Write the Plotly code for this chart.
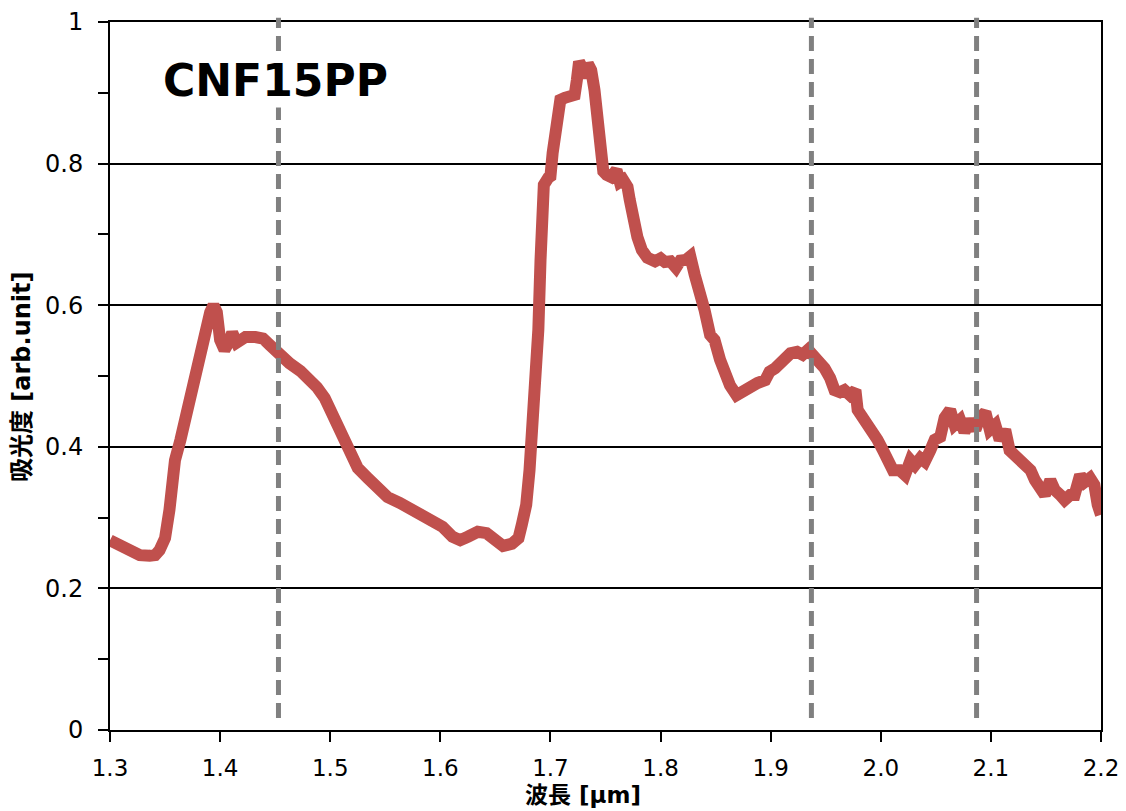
import plotly.graph_objects as go

# Wavelength [um] and absorbance [arb.unit]
wavelength = [
    1.300, 1.309, 1.318, 1.327, 1.336, 1.341, 1.345, 1.350, 1.354, 1.359,
    1.364, 1.368, 1.373, 1.377, 1.382, 1.386, 1.391, 1.394, 1.397, 1.400,
    1.404, 1.408, 1.411, 1.415, 1.418, 1.423, 1.432, 1.439, 1.445, 1.453,
    1.463, 1.473, 1.482, 1.488, 1.495, 1.500, 1.506, 1.512, 1.518, 1.525,
    1.534, 1.543, 1.552, 1.563, 1.575, 1.586, 1.595, 1.602, 1.611, 1.618,
    1.625, 1.634, 1.642, 1.650, 1.657, 1.665, 1.671, 1.674, 1.678, 1.681,
    1.684, 1.686, 1.689, 1.691, 1.692, 1.694, 1.698, 1.700, 1.702, 1.704,
    1.706, 1.709, 1.713, 1.718, 1.722, 1.724, 1.726, 1.729, 1.731, 1.734,
    1.737, 1.740, 1.742, 1.745, 1.748, 1.751, 1.755, 1.760, 1.763, 1.766,
    1.770, 1.772, 1.775, 1.779, 1.783, 1.788, 1.795, 1.800, 1.804, 1.809,
    1.814, 1.818, 1.823, 1.827, 1.831, 1.836, 1.840, 1.845, 1.849, 1.854,
    1.858, 1.863, 1.869, 1.875, 1.881, 1.888, 1.895, 1.899, 1.904, 1.911,
    1.918, 1.924, 1.929, 1.934, 1.938, 1.945, 1.949, 1.954, 1.958, 1.963,
    1.967, 1.972, 1.977, 1.979, 1.986, 1.990, 1.997, 2.002, 2.007, 2.011,
    2.017, 2.022, 2.027, 2.031, 2.036, 2.040, 2.045, 2.049, 2.054, 2.058,
    2.063, 2.067, 2.072, 2.076, 2.081, 2.086, 2.090, 2.095, 2.099, 2.104,
    2.108, 2.113, 2.117, 2.125, 2.131, 2.136, 2.140, 2.145, 2.149, 2.154,
    2.158, 2.163, 2.167, 2.172, 2.176, 2.181, 2.185, 2.190, 2.194, 2.197,
    2.200,
]
absorbance = [
    0.268, 0.260, 0.253, 0.247, 0.246, 0.247, 0.254, 0.271, 0.311, 0.381,
    0.410, 0.438, 0.466, 0.501, 0.534, 0.565, 0.590, 0.600, 0.590, 0.551,
    0.537, 0.548, 0.561, 0.547, 0.551, 0.555, 0.555, 0.553, 0.544, 0.530,
    0.518, 0.507, 0.494, 0.484, 0.469, 0.452, 0.427, 0.410, 0.388, 0.370,
    0.356, 0.342, 0.329, 0.321, 0.311, 0.305, 0.297, 0.287, 0.273, 0.268,
    0.273, 0.280, 0.278, 0.266, 0.260, 0.263, 0.271, 0.290, 0.318, 0.367,
    0.424, 0.480, 0.565, 0.664, 0.734, 0.770, 0.780, 0.782, 0.815, 0.847,
    0.869, 0.890, 0.893, 0.895, 0.897, 0.918, 0.944, 0.935, 0.921, 0.941,
    0.932, 0.904, 0.862, 0.815, 0.789, 0.784, 0.781, 0.791, 0.774, 0.777,
    0.767, 0.749, 0.713, 0.696, 0.678, 0.667, 0.662, 0.666, 0.661, 0.662,
    0.653, 0.663, 0.664, 0.669, 0.643, 0.621, 0.593, 0.558, 0.551, 0.523,
    0.501, 0.487, 0.473, 0.480, 0.487, 0.490, 0.494, 0.506, 0.511, 0.523,
    0.532, 0.534, 0.530, 0.537, 0.530, 0.523, 0.511, 0.497, 0.480, 0.477,
    0.480, 0.473, 0.480, 0.452, 0.438, 0.424, 0.410, 0.395, 0.381, 0.367,
    0.367, 0.360, 0.381, 0.374, 0.384, 0.379, 0.395, 0.410, 0.414, 0.441,
    0.452, 0.431, 0.438, 0.421, 0.438, 0.424, 0.441, 0.449, 0.424, 0.431,
    0.410, 0.424, 0.395, 0.381, 0.370, 0.367, 0.353, 0.342, 0.332, 0.353,
    0.339, 0.332, 0.325, 0.332, 0.332, 0.360, 0.350, 0.356, 0.346, 0.318,
    0.304,
]

# Reference wavelengths marked by dashed lines
marker_wavelengths = [1.453, 1.937, 2.087]

x_ticks = [1.3, 1.4, 1.5, 1.6, 1.7, 1.8, 1.9, 2.0, 2.1, 2.2]
x_tick_labels = ["1.3", "1.4", "1.5", "1.6", "1.7", "1.8", "1.9", "2.0", "2.1", "2.2"]
y_ticks = [0, 0.2, 0.4, 0.6, 0.8, 1.0]
y_tick_labels = ["0", "0.2", "0.4", "0.6", "0.8", "1"]

FONT = "DejaVu Sans, Verdana, Noto Sans CJK JP, sans-serif"
TITLE_FONT = "DejaVu Sans, Noto Sans CJK JP, sans-serif"

fig = go.Figure()

for xm in marker_wavelengths:
    fig.add_shape(
        type="line", xref="x", yref="paper",
        x0=xm, x1=xm, y0=0.017, y1=1.006,
        line=dict(color="#808080", width=5, dash="15px,8px"),
        layer="above",
    )

fig.add_trace(go.Scatter(
    x=wavelength, y=absorbance, mode="lines",
    line=dict(color="#C0504D", width=12, shape="linear"),
    showlegend=False, hoverinfo="skip",
))

fig.add_annotation(
    x=0.167, y=0.918, xref="paper", yref="paper",
    text="<b>CNF15PP</b>", showarrow=False,
    font=dict(family=TITLE_FONT, size=44, color="black"),
    bgcolor="white", xanchor="center", yanchor="middle",
)
fig.add_annotation(
    x=0.477, y=-0.0918, xref="paper", yref="paper",
    text="<b>波長 [μm]</b>", showarrow=False,
    font=dict(family=TITLE_FONT, size=23, color="black"),
    xanchor="center", yanchor="middle",
)
fig.add_annotation(
    x=-0.0888, y=0.5, xref="paper", yref="paper",
    text="<b>吸光度 [arb.unit]</b>", showarrow=False, textangle=-90,
    font=dict(family=TITLE_FONT, size=24, color="black"),
    xanchor="center", yanchor="middle",
)

fig.update_layout(
    width=1126, height=811,
    margin=dict(l=110, r=25, t=22, b=81),
    paper_bgcolor="white", plot_bgcolor="white",
    font=dict(family=FONT, size=23, color="black"),
    showlegend=False,
)

fig.update_xaxes(
    range=[1.3, 2.2], tickvals=x_ticks, ticktext=x_tick_labels,
    showgrid=False, zeroline=False, automargin=False,
    showline=True, linecolor="black", linewidth=2, mirror=True,
    ticks="outside", ticklen=10, tickwidth=2, tickcolor="black",
    tickfont=dict(family=FONT, size=23), ticklabelstandoff=6,
)
fig.update_yaxes(
    range=[0, 1], tickvals=y_ticks, ticktext=y_tick_labels,
    showgrid=True, gridcolor="black", gridwidth=2, zeroline=False, automargin=False,
    showline=True, linecolor="black", linewidth=2, mirror=True,
    ticks="outside", ticklen=10, tickwidth=2, tickcolor="black",
    minor=dict(dtick=0.1, tick0=0, ticks="outside", ticklen=10, tickwidth=2,
               tickcolor="black", showgrid=False),
    tickfont=dict(family=FONT, size=24), ticklabelstandoff=10,
)

fig.write_html("out.html")
